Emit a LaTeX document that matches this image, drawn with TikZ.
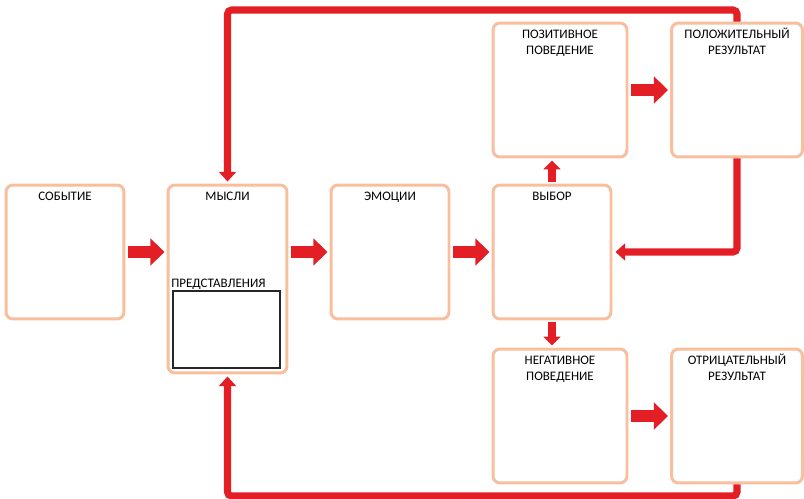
\documentclass[tikz,border=0pt]{standalone}
\usepackage{fontspec}
\setmainfont{Carlito}
\usetikzlibrary{arrows.meta}
\definecolor{arrred}{HTML}{E31E24}
\definecolor{boxpeach}{HTML}{F9BE9E}

\begin{document}
\begin{tikzpicture}[x=0.02cm, y=-0.02cm,
	stage/.style={draw=boxpeach, line width=1.7pt, rounded corners=0.14cm, fill=white, inner sep=0pt},
	ttl/.style={anchor=north, inner sep=0pt, align=center, font=\fontsize{7.4}{9.1}\selectfont, yshift=-0.11cm},
	blk/.style={draw=arrred, line width=6.8pt, -{Triangle[width=15pt, length=8pt]}, shorten <=0.06cm, shorten >=0.04cm},
	updn/.style={draw=arrred, line width=4.5pt, -{Triangle[width=9.5pt, length=5pt]}, shorten <=0.04cm, shorten >=0.04cm},
	loopb/.style={draw=arrred, line width=4pt, rounded corners=0.08cm, -{Triangle[width=9.6pt, length=5.5pt]}, shorten >=0.04cm}]
			\useasboundingbox (0,0) rectangle (804,499);
			\node[stage, minimum width=2.36cm, minimum height=2.68cm] (sob) at (65,252) {};
			\node[stage, minimum width=2.38cm, minimum height=3.76cm] (mys) at (227.5,279) {};
			\node[stage, minimum width=2.36cm, minimum height=2.68cm] (emo) at (390,252) {};
			\node[stage, minimum width=2.36cm, minimum height=2.68cm] (vyb) at (552,252) {};
			\node[stage, minimum width=2.68cm, minimum height=2.68cm] (poz) at (560,90) {};
			\node[stage, minimum width=2.62cm, minimum height=2.68cm] (pol) at (737,90) {};
			\node[stage, minimum width=2.68cm, minimum height=2.68cm] (neg) at (560,416) {};
			\node[stage, minimum width=2.62cm, minimum height=2.68cm] (otr) at (737,416) {};
			\node[draw=black!85, line width=1.2pt, minimum width=2.14cm, minimum height=1.54cm, inner sep=0pt] (pred) at (226.5,329.5) {};

			\node[ttl] (sob-t) at (sob.north) {\strut СОБЫТИЕ};
			\node[ttl] (mys-t) at (mys.north) {\strut МЫСЛИ};
			\node[ttl] (emo-t) at (emo.north) {\strut ЭМОЦИИ};
			\node[ttl] (vyb-t) at (vyb.north) {\strut ВЫБОР};
			\node[ttl] (poz-t) at (poz.north) {\strut ПОЗИТИВНОЕ\\ПОВЕДЕНИЕ};
			\node[ttl] (pol-t) at (pol.north) {\strut ПОЛОЖИТЕЛЬНЫЙ\\РЕЗУЛЬТАТ};
			\node[ttl] (neg-t) at (neg.north) {\strut НЕГАТИВНОЕ\\ПОВЕДЕНИЕ};
			\node[ttl] (otr-t) at (otr.north) {\strut ОТРИЦАТЕЛЬНЫЙ\\РЕЗУЛЬТАТ};
			\node[ttl, anchor=base west, yshift=0.16cm, xshift=-0.02cm] (pred-t) at (pred.north west) {ПРЕДСТАВЛЕНИЯ};

			\draw[blk] (sob.east) -- (mys.west |- sob.east);
			\draw[blk] (mys.east |- emo.west) -- (emo.west);
			\draw[blk] (emo.east) -- (vyb.west);
			\draw[blk] (poz.east) -- (pol.west);
			\draw[blk] (neg.east) -- (otr.west);
			\draw[updn] (vyb.north) -- (poz.south -| vyb.north);
			\draw[updn] (vyb.south) -- (neg.north -| vyb.south);

			\coordinate (ftop) at (0,10);
			\coordinate (fbot) at (0,496);
			\draw[loopb] (pol.north) |- (mys.north |- ftop) -- (mys.north);
			\draw[loopb, shorten >=0.06cm] (pol.south) |- (vyb.east);
			\draw[loopb] (otr.south) |- (mys.south |- fbot) -- (mys.south);
		\end{tikzpicture}
\end{document}
